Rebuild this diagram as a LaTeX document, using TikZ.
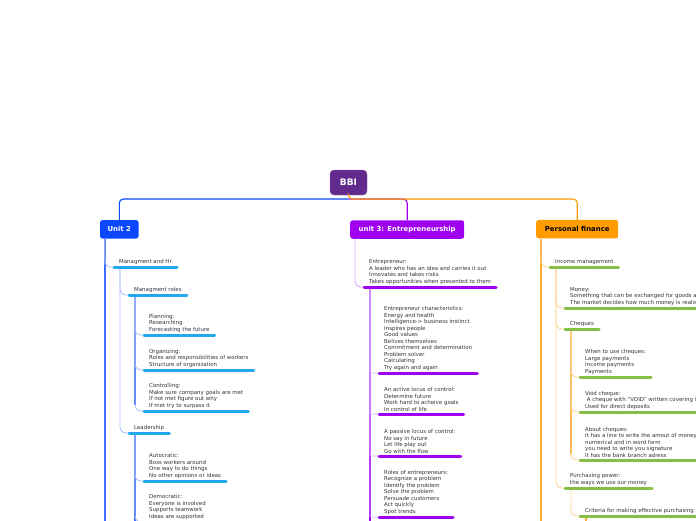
\documentclass[tikz,border=0pt]{standalone}
\usepackage{fontspec}
\setmainfont{DejaVu Sans}
\usetikzlibrary{positioning}
\definecolor{bbiviolet}{HTML}{632A8E}
\definecolor{unitblue}{HTML}{0A47FF}
\definecolor{spineblue}{HTML}{3D6EFF}
\definecolor{softblue}{HTML}{AFC4FF}
\definecolor{lineblue}{HTML}{22A8EE}
\definecolor{unitpurple}{HTML}{A000F0}
\definecolor{softpurple}{HTML}{DCA8FF}
\definecolor{unitorange}{HTML}{FF9C00}
\definecolor{spineorange}{HTML}{FFAA33}
\definecolor{softorange}{HTML}{FFD699}
\definecolor{linegreen}{HTML}{86BF44}
\definecolor{textgray}{HTML}{333333}
\tikzset{
  mainbox/.style={rounded corners=4pt,fill=bbiviolet,draw=bbiviolet!75!white,text=white,
                  font=\bfseries\fontsize{9}{10}\selectfont,minimum width=37pt,minimum height=25pt,inner sep=0pt},
  unitbox/.style={rounded corners=2.5pt,text=white,font=\bfseries\fontsize{6.9}{8}\selectfont,
                  minimum height=18.5pt,inner sep=0pt},
  topic/.style={anchor=south west,align=left,inner xsep=5pt,inner ysep=2.5pt,text=textgray,
                font=\fontsize{5.45}{6.5}\selectfont},
  trunk/.style={line width=1.1pt,rounded corners=4pt},
  spine/.style={line width=1.5pt},
  link/.style={line width=0.9pt,rounded corners=6pt},
  uline/.style={line width=3pt,line cap=round}
}
\begin{document}
\begin{tikzpicture}[x=1pt,y=-1pt]
  \useasboundingbox (0,0) rectangle (696,520);
  \clip (0,0) rectangle (696,520);
  \fill[white] (0,0) rectangle (696,520);
  % centre and units
  \node[mainbox] (bbi) at (348.5,182.5) {BBI};
  \node[unitbox,fill=unitblue,minimum width=38.5pt] (u2) at (119.3,229.3) {Unit 2};
  \node[unitbox,fill=unitpurple,minimum width=114pt] (u3) at (407.2,229.5) {unit 3: Entrepreneurship};
  \node[unitbox,fill=unitorange,text=black,minimum width=82pt] (pf) at (577.2,229.2) {Personal finance};
  \coordinate (hub) at (348.5,199);
  \coordinate (bottom) at (0,530);
  % unit 2
  \node[topic] (mgmt) at (114,267) {Managment and Hr};
  \node[topic] (roles) at (129,295) {Managment roles};
  \node[topic] (plan) at (144,335) {Planning:\\Researching\\Forecasting the future};
  \node[topic] (organ) at (144,370) {Organizing:\\Roles and responsibilities of workers\\Structure of organization};
  \node[topic] (ctrl) at (144,411) {Controlling:\\Make sure company goals are met\\If not met figure out why\\If met try to surpass it};
  \node[topic] (lead) at (129,433) {Leadership};
  \node[topic] (auto) at (144,481) {Autocratic:\\Boss workers around\\One way to do things\\No other opinions or ideas};
  \node[topic] (demo) at (144,522) {Democratic:\\Everyone is involved\\Supports teamwork\\Ideas are supported};
  % unit 3
  \node[topic] (entr) at (364,287) {Entrepreneur:\\A leader who has an idea and carries it out\\Innovates and takes risks\\Takes opportunities when presented to them};
  \node[topic] (chars) at (379,373) {Entrepreneur characteristics:\\Energy and health\\Intelligence-> business instinct\\Inspires people\\Good values\\Belives themselves\\Commitment and determination\\Problem solver\\Calculating\\Try again and again};
  \node[topic] (active) at (379,414) {An active locus of control:\\Determine future\\Work hard to acheive goals\\In control of life};
  \node[topic] (passive) at (379,456) {A passive locus of control:\\No say in future\\Let life play out\\Go with the flow};
  \node[topic] (eroles) at (379,517) {Roles of entrepreneurs:\\Recognize a problem\\Identify the problem\\Solve the problem\\Persuade customers\\Act quickly\\Spot trends};
  % personal finance
  \node[topic] (income) at (550,267) {Income management};
  \node[topic] (money) at (565,308) {Money:\\Something that can be exchanged for goods and services\\The market decides how much money is realistic};
  \node[topic] (cheq) at (565,329) {Cheques};
  \node[topic] (when) at (580,377) {When to use cheques:\\Large payments\\Income payments\\Payments};
  \node[topic] (void) at (580,412) {Void cheque:\\~A cheque with "VOID" written covering it\\Used for direct deposits};
  \node[topic] (about) at (580,460) {About cheques:\\It has a line to write the amout of money in\\numerical and in word form\\you need to write you signature\\It has the bank branch adress};
  \node[topic] (purch) at (565,488) {Purchasing power:\\the ways we use our money};
  \node[topic] (crit) at (580,516) {Criteria for making effective purchasing decisions};
  % trunks from the centre
  \draw[trunk,unitblue] (hub) -| (u2.north);
  \draw[trunk,unitpurple] (hub) -| (u3.north);
  \draw[trunk,unitorange] (bbi.south) -- (hub) -| (pf.north);
  % blue branch
  \draw[spine,spineblue] ([xshift=5pt]u2.south west) -- ([xshift=5pt]u2.south west |- bottom);
  \draw[link,softblue] ([xshift=5pt]u2.south west) |- (mgmt.south west);
  \draw[spine,spineblue] ([xshift=6pt]roles.south west) -- ([xshift=6pt,yshift=6pt]roles.south west |- ctrl.south west);
  \draw[spine,spineblue] ([xshift=6pt]lead.south west) -- ([xshift=6pt]lead.south west |- bottom);
  \foreach \p/\c in {mgmt/roles,mgmt/lead,roles/plan,roles/organ,roles/ctrl,lead/auto,lead/demo}
    {\draw[link,softblue] ([xshift=6pt]\p.south west) |- (\c.south west);}
  \foreach \n in {mgmt,roles,plan,organ,ctrl,lead,auto,demo}
    {\draw[uline,lineblue] (\n.south west) -- (\n.south east);}
  % purple branch
  \draw[link,softpurple] ([xshift=5pt]u3.south west) |- (entr.south west);
  \draw[spine,unitpurple] ([xshift=6pt]entr.south west) -- ([xshift=6pt]entr.south west |- bottom);
  \foreach \c in {chars,active,passive,eroles}
    {\draw[link,softpurple,rounded corners=1pt] ([xshift=6pt]entr.south west) |- (\c.south west);}
  \foreach \n in {entr,chars,active,passive,eroles}
    {\draw[uline,unitpurple] (\n.south west) -- (\n.south east);}
  % orange branch
  \draw[spine,spineorange] ([xshift=5pt]pf.south west) -- ([xshift=5pt]pf.south west |- bottom);
  \draw[link,softorange] ([xshift=5pt]pf.south west) |- (income.south west);
  \draw[spine,spineorange] ([xshift=6pt]cheq.south west) -- ([xshift=6pt,yshift=6pt]cheq.south west |- about.south west);
  \draw[spine,spineorange] ([xshift=6pt]crit.south west) -- ([xshift=6pt]crit.south west |- bottom);
  \foreach \p/\c in {income/money,income/cheq,income/purch,cheq/when,cheq/void,cheq/about,purch/crit}
    {\draw[link,softorange] ([xshift=6pt]\p.south west) |- (\c.south west);}
  \foreach \n in {income,money,cheq,when,void,about,purch,crit}
    {\draw[uline,linegreen] (\n.south west) -- (\n.south east);}
\end{tikzpicture}
\end{document}
